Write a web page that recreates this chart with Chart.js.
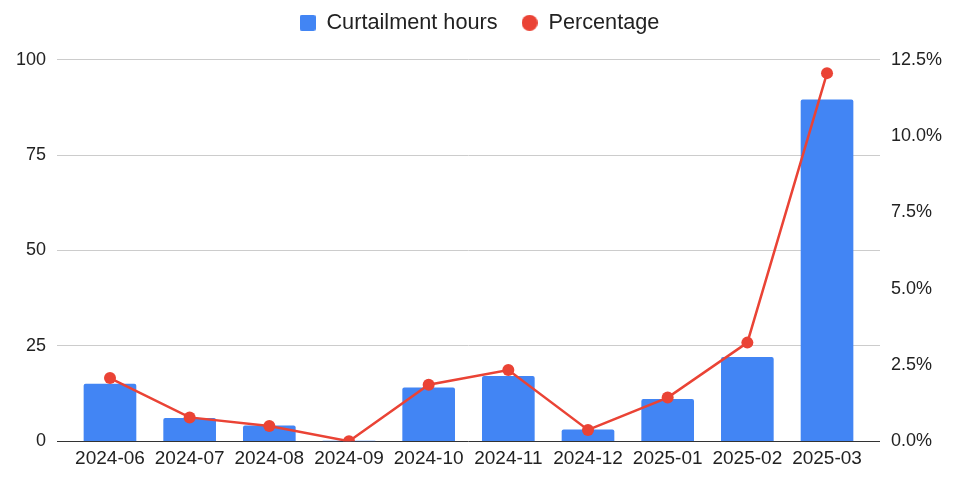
<!DOCTYPE html>
<html><head><meta charset="utf-8">
<script src="https://cdn.jsdelivr.net/npm/chart.js@4.4.1/dist/chart.umd.min.js"></script>
<style>html,body{margin:0;padding:0;background:#fff}#wrap{width:959px;height:483px;position:relative}</style>
</head><body><div id="wrap"><canvas id="c" width="959" height="483"></canvas></div>
<script>
const categories = ['2024-06','2024-07','2024-08','2024-09','2024-10','2024-11','2024-12','2025-01','2025-02','2025-03'];
const curtailmentHours = [15, 6, 4, 0, 14, 17, 3, 11, 22, 89.5];
const percentage = [2.07, 0.78, 0.50, 0, 1.85, 2.33, 0.37, 1.43, 3.23, 12.06];
const leftTicks = [0, 25, 50, 75, 100];
const rightTicks = [0, 2.5, 5, 7.5, 10, 12.5];

const BLUE = '#4285F4', RED = '#EA4335', FONT = "'Liberation Sans', Arial, sans-serif";

function makeSwatch(shape, color, size) {
  const c = document.createElement('canvas');
  c.width = size; c.height = size;
  const g = c.getContext('2d');
  g.fillStyle = color;
  g.beginPath();
  if (shape === 'circle') g.arc(size / 2, size / 2, size / 2, 0, Math.PI * 2);
  else if (g.roundRect) g.roundRect(0, 0, size, size, 2);
  else g.rect(0, 0, size, size);
  g.fill();
  return c;
}
const rectSwatch = makeSwatch('rect', BLUE, 16);
const circleSwatch = makeSwatch('circle', RED, 16);

const gridColor = ctx => (ctx.tick && ctx.tick.value === 0) ? '#333333' : '#cccccc';

const legendGap = {
  id: 'legendGap',
  beforeInit(chart) {
    const lg = chart.legend;
    if (!lg) return;
    const fit = lg.fit;
    lg.fit = function () { fit.call(this); this.height += 16; };
  }
};

new Chart(document.getElementById('c'), {
  data: {
    labels: categories,
    datasets: [
      { type: 'bar', label: 'Curtailment hours', data: curtailmentHours.map((v, i) => ({ x: i, y: v })),
        yAxisID: 'y', order: 1, backgroundColor: BLUE, barThickness: 52, borderRadius: 2 },
      { type: 'line', label: 'Percentage', data: percentage.map((v, i) => ({ x: i, y: v })),
        yAxisID: 'y1', order: 0, borderColor: RED, backgroundColor: RED, borderWidth: 2.5, pointRadius: 6,
        pointBackgroundColor: RED, pointBorderWidth: 0, tension: 0 }
    ]
  },
  plugins: [legendGap],
  options: {
    responsive: false, animation: false,
    layout: { padding: { top: -12, left: 0, right: 0, bottom: 7 } },
    plugins: {
      tooltip: { enabled: false },
      legend: {
        position: 'top',
        labels: {
          usePointStyle: true, boxWidth: 16, boxHeight: 16, padding: 24,
          color: '#222', font: { family: FONT, size: 21.7 },
          sort: (a, b) => a.datasetIndex - b.datasetIndex,
          generateLabels(chart) {
            const items = Chart.defaults.plugins.legend.labels.generateLabels(chart);
            items.forEach(it => { it.pointStyle = it.datasetIndex === 0 ? rectSwatch : circleSwatch; });
            return items;
          }
        }
      }
    },
    scales: {
      x: { type: 'linear', min: -0.665, max: 9.665, offset: false,
        afterBuildTicks: s => { s.ticks = categories.map((c, i) => ({ value: i })); },
        grid: { display: false, drawTicks: false }, border: { display: false },
        ticks: { color: '#222', font: { family: FONT, size: 19 }, padding: 6, maxRotation: 0, autoSkip: false,
          callback: v => categories[v] } },
      y: { position: 'left', min: 0, max: 100,
        afterBuildTicks: s => { s.ticks = leftTicks.map(v => ({ value: v })); },
        ticks: { color: '#222', font: { family: FONT, size: 18 }, padding: 11 },
        grid: { color: gridColor, drawTicks: false }, border: { display: false },
        afterFit: s => { s.width = 57; } },
      y1: { position: 'right', min: 0, max: 12.5,
        afterBuildTicks: s => { s.ticks = rightTicks.map(v => ({ value: v })); },
        ticks: { color: '#222', font: { family: FONT, size: 18 }, padding: 11, callback: v => v.toFixed(1) + '%' },
        grid: { display: false, drawTicks: false }, border: { display: false },
        afterFit: s => { s.width = 79; } }
    }
  }
});
</script></body></html>
